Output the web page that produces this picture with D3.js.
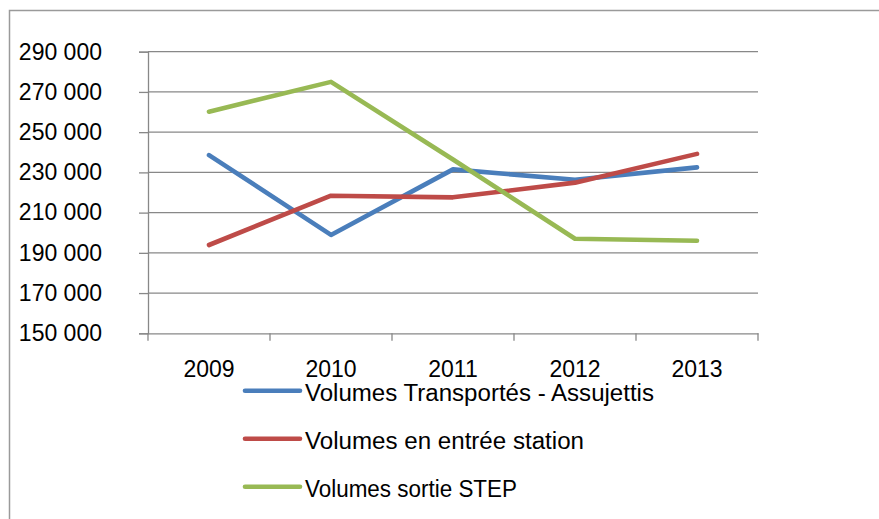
<!DOCTYPE html>
<html>
<head>
<meta charset="utf-8">
<script src="https://cdn.jsdelivr.net/npm/d3@7"></script>
<style>
  body { margin: 0; background: #fff; }
  svg text { font-family: "Liberation Sans", Arial, sans-serif; fill: #000; }
</style>
</head>
<body>
<div id="chart"></div>
<script>
// data
const years = ["2009", "2010", "2011", "2012", "2013"];
const transportes = [238600, 198900, 231500, 226300, 232500];
const entreeStation = [193900, 218400, 217600, 224900, 239200];
const sortieStep = [260200, 275000, 236400, 197000, 196000];
const seriesNames = ["Volumes Transportés - Assujettis", "Volumes en entrée station", "Volumes sortie STEP"];
const seriesColors = ["#4a7ebb", "#be4b48", "#98b954"];
const yTicks = [150000, 170000, 190000, 210000, 230000, 250000, 270000, 290000];

const series = [transportes, entreeStation, sortieStep].map((vals, i) => ({
    name: seriesNames[i],
    color: seriesColors[i],
    values: vals.map((v, j) => ({ year: years[j], value: v }))
}));

const width = 879, height = 519;
const svg = d3.select("#chart").append("svg")
    .attr("width", width)
    .attr("height", height);

// outer frame (runs off the right and bottom edge)
svg.append("rect")
    .attr("x", 9.5).attr("y", 10.5)
    .attr("width", 900).attr("height", 600)
    .attr("fill", "none")
    .attr("stroke", "#9a9a9a")
    .attr("stroke-width", 1.5);

const plot = { left: 148, right: 758, top: 51.7, bottom: 333.3 };

const x = d3.scaleBand().domain(years).range([plot.left, plot.right]);
const y = d3.scaleLinear().domain([150000, 290000]).range([plot.bottom, plot.top]);

const fmt = d => d3.format(",")(d).replace(",", " ");

// horizontal gridlines
svg.append("g")
    .selectAll("line")
    .data(yTicks.filter(t => t > 150000))
    .join("line")
    .attr("x1", plot.left).attr("x2", plot.right)
    .attr("y1", d => y(d)).attr("y2", d => y(d))
    .attr("stroke", "#888")
    .attr("stroke-width", 1.3);

// y axis
const yAxis = svg.append("g")
    .attr("transform", `translate(${plot.left},0)`)
    .call(d3.axisLeft(y).tickValues(yTicks).tickFormat(fmt).tickSize(9).tickPadding(37));
yAxis.select(".domain").attr("stroke", "#888").attr("stroke-width", 1.3);
yAxis.selectAll(".tick line").attr("stroke", "#888").attr("stroke-width", 1.3);
yAxis.selectAll("text").attr("font-size", 23).attr("fill", "#000");

// x axis
const xAxis = svg.append("g")
    .attr("transform", `translate(0,${plot.bottom})`)
    .call(d3.axisBottom(x).tickSize(0).tickPadding(27));
xAxis.select(".domain").attr("stroke", "#888").attr("stroke-width", 1.3);
xAxis.selectAll("text").attr("font-size", 23).attr("fill", "#000");

// category boundary ticks
const bounds = years.map(d => x(d)).concat([plot.right]);
svg.append("g")
    .selectAll("line")
    .data(bounds)
    .join("line")
    .attr("x1", d => d).attr("x2", d => d)
    .attr("y1", plot.bottom).attr("y2", plot.bottom + 7.5)
    .attr("stroke", "#888")
    .attr("stroke-width", 1.3);

// lines
const line = d3.line()
    .x(d => x(d.year) + x.bandwidth() / 2)
    .y(d => y(d.value));

svg.append("g")
    .selectAll("path")
    .data(series)
    .join("path")
    .attr("d", d => line(d.values))
    .attr("fill", "none")
    .attr("stroke", d => d.color)
    .attr("stroke-width", 4.6)
    .attr("stroke-linecap", "round")
    .attr("stroke-linejoin", "round");

// legend
const legendWidths = [349, 279, 212];
const legend = svg.append("g")
    .selectAll("g")
    .data(series)
    .join("g")
    .attr("transform", (d, i) => `translate(245,${390.7 + i * 48})`);

legend.append("line")
    .attr("x1", 0).attr("x2", 55)
    .attr("stroke", d => d.color)
    .attr("stroke-width", 4.6)
    .attr("stroke-linecap", "round");

legend.append("text")
    .attr("x", 60)
    .attr("y", 10.5)
    .attr("font-size", 23)
    .attr("textLength", (d, i) => legendWidths[i])
    .attr("lengthAdjust", "spacingAndGlyphs")
    .text(d => d.name);
</script>
</body>
</html>
